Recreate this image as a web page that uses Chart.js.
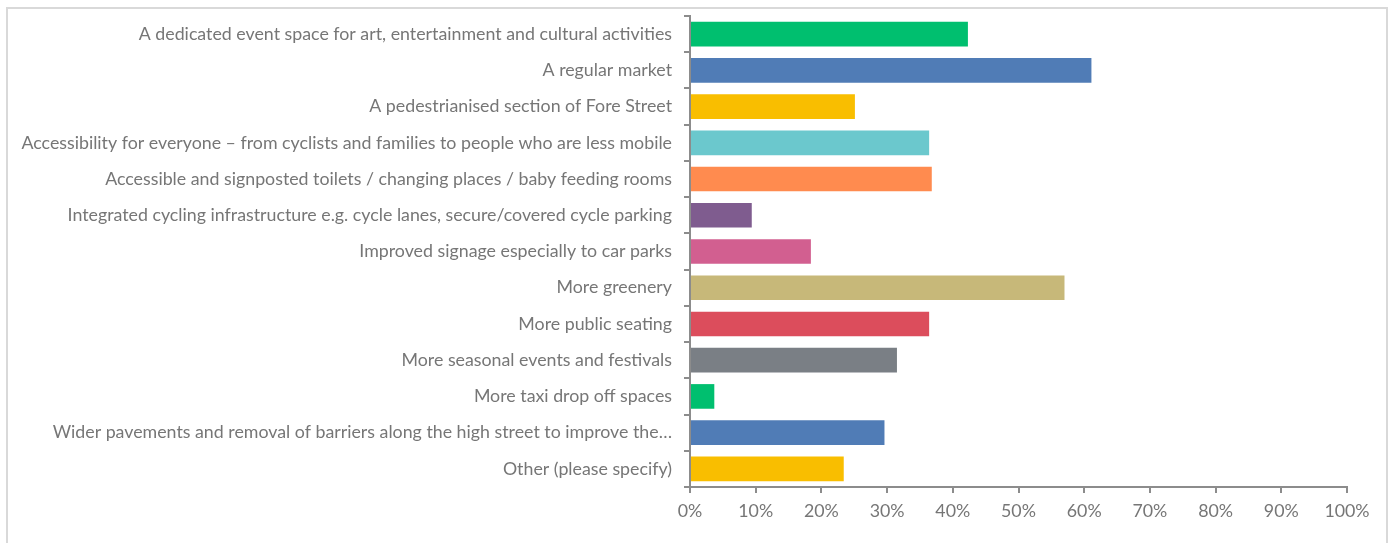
<!DOCTYPE html>
<html>
<head>
    <title>Survey responses</title>
    <script src="https://cdn.jsdelivr.net/npm/chart.js@4.4.0/dist/chart.umd.min.js"></script>
    <style>
        body { margin: 0; background: #fff; }
        .frame {
            position: absolute;
            left: 6px; top: 7px;
            width: 1382px; height: 545px;
            border: 2px solid #d9d9d9;
            box-sizing: border-box;
        }
        .chart-box {
            position: absolute;
            left: 0; top: 0;
            width: 1396px; height: 543px;
        }
    </style>
</head>
<body>
    <div class="frame"></div>
    <div class="chart-box">
        <canvas id="surveyChart"></canvas>
    </div>
    <script>
        const categories = [
            'A dedicated event space for art, entertainment and cultural activities',
            'A regular market',
            'A pedestrianised section of Fore Street',
            'Accessibility for everyone \u2013 from cyclists and families to people who are less mobile',
            'Accessible and signposted toilets / changing places / baby feeding rooms',
            'Integrated cycling infrastructure e.g. cycle lanes, secure/covered cycle parking',
            'Improved signage especially to car parks',
            'More greenery',
            'More public seating',
            'More seasonal events and festivals',
            'More taxi drop off spaces',
            'Wider pavements and removal of barriers along the high street to improve the\u2026',
            'Other (please specify)'
        ];
        const percentages = [42.3, 61.1, 25.1, 36.4, 36.8, 9.4, 18.4, 57.0, 36.4, 31.5, 3.7, 29.6, 23.4];
        const barColors = [
            '#00bf6f', '#507cb6', '#f9be00', '#6bc8cd', '#ff8b4f', '#7f5c8f', '#d25f90',
            '#c7b879', '#dc4d5c', '#7a7f85', '#00bf6f', '#507cb6', '#f9be00'
        ];
        const xTicks = [0, 10, 20, 30, 40, 50, 60, 70, 80, 90, 100];

        const axisColor = '#8c8c8c';
        const textColor = '#767676';

        new Chart(document.getElementById('surveyChart').getContext('2d'), {
            type: 'bar',
            data: {
                labels: categories,
                datasets: [{
                    data: percentages,
                    backgroundColor: barColors,
                    borderWidth: 0,
                    barPercentage: 0.68,
                    categoryPercentage: 1.0
                }]
            },
            options: {
                indexAxis: 'y',
                responsive: true,
                maintainAspectRatio: false,
                animation: false,
                layout: {
                    padding: { top: 16, right: 49, bottom: 0, left: 0 }
                },
                plugins: {
                    legend: { display: false },
                    tooltip: { enabled: false }
                },
                scales: {
                    x: {
                        min: 0,
                        max: 100,
                        afterBuildTicks: scale => {
                            scale.ticks = xTicks.map(v => ({ value: v }));
                        },
                        afterFit: scale => { scale.height = 56; },
                        ticks: {
                            color: textColor,
                            font: { family: 'Lato', size: 17.8 },
                            padding: 8,
                            callback: v => v + '%'
                        },
                        grid: {
                            drawOnChartArea: false,
                            drawTicks: true,
                            tickLength: 6,
                            color: axisColor,
                            lineWidth: 2
                        },
                        border: { color: axisColor, width: 2 }
                    },
                    y: {
                        afterFit: scale => {
                            // keep the axis at x=690 and let the plot start at the layout padding
                            scale.width = 690;
                            scale.paddingTop = 0;
                            scale.paddingBottom = 0;
                        },
                        ticks: {
                            color: textColor,
                            font: { family: 'Lato', size: 17.8 },
                            padding: 12
                        },
                        grid: {
                            offset: true,
                            drawOnChartArea: false,
                            drawTicks: true,
                            tickLength: 6,
                            color: axisColor,
                            lineWidth: 2
                        },
                        border: { color: axisColor, width: 2 }
                    }
                }
            }
        });
    </script>
</body>
</html>
